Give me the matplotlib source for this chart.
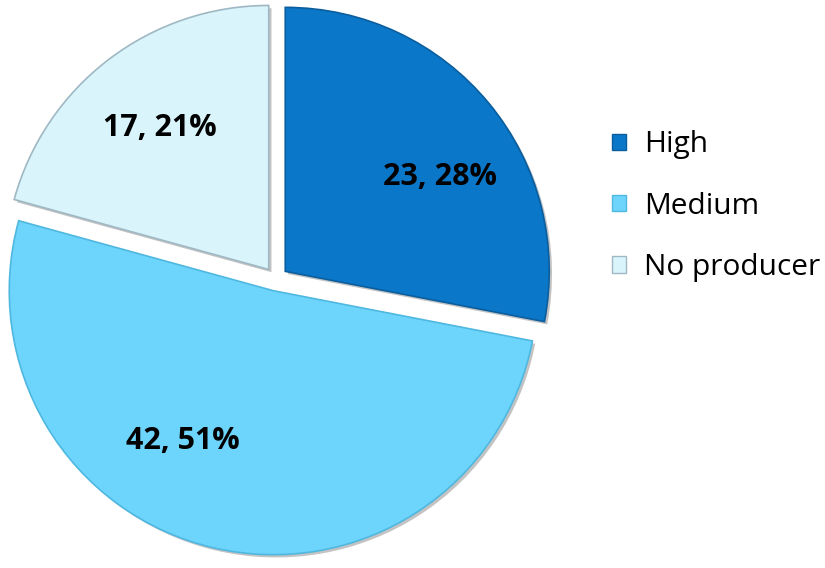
import matplotlib.pyplot as plt
import matplotlib.patheffects as pe
from matplotlib.patches import Patch

categories = ['High', 'Medium', 'No producer']
counts = [23, 42, 17]
colors = ['#0B77C9', '#6DD4FB', '#DAF4FC']
edge_colors = ['#0A5E9E', '#4FB8E0', '#9FB8C4']

# 标签位置（像素坐标，y 向下）
label_pos = [(440, 177), (183, 441), (160, 128)]

W, H = 825, 568
fig = plt.figure(figsize=(W / 100, H / 100), dpi=100)
ax = fig.add_axes([0, 0, 1, 1])

total = sum(counts)
# explode 为数据坐标下的绝对偏移（像素）
wedges, _ = ax.pie(counts, colors=colors, startangle=90, counterclock=False,
                   center=(276, H - 279), radius=264, explode=[12] * 3,
                   wedgeprops=dict(linewidth=1.2))
for w, ec in zip(wedges, edge_colors):
    w.set_edgecolor(ec)
    w.set_path_effects([pe.SimplePatchShadow(offset=(2, -2), alpha=0.35, shadow_rgbFace='#555555'),
                        pe.Normal()])

# pie 会重设坐标范围，之后再设
ax.set_xlim(0, W)
ax.set_ylim(0, H)
ax.set_aspect('equal')
ax.axis('off')

for n, (x, y) in zip(counts, label_pos):
    ax.text(x, H - y, f'{n}, {round(n / total * 100)}%', ha='center', va='center',
            fontsize=22, fontweight='bold', family=['Open Sans', 'DejaVu Sans'], color='black')

handles = [Patch(facecolor=c, edgecolor=ec, linewidth=1) for c, ec in zip(colors, edge_colors)]
leg = ax.legend(handles, categories, loc='center left', bbox_to_anchor=(0.709, 0.637),
                frameon=False, handlelength=0.48, handleheight=0.48, handletextpad=0.6,
                labelspacing=1.08, prop={'family': 'Open Sans', 'size': 21.5})

fig.savefig('out.png', dpi=100)
